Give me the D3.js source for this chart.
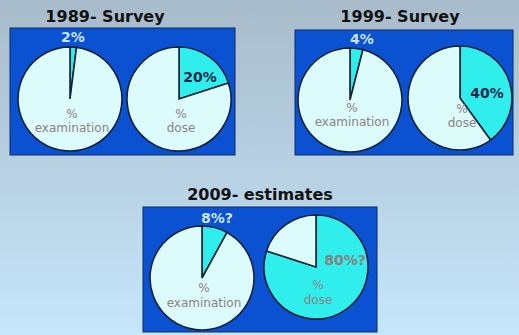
<!DOCTYPE html>
<html>
<head>
<meta charset="utf-8">
<script src="https://cdn.jsdelivr.net/npm/d3@7"></script>
<style>
  html, body { margin:0; padding:0; }
  svg { display:block; }
</style>
</head>
<body>
<svg width="519" height="335"></svg>
<script>
// chart values
var titles = ['1989- Survey', '1999- Survey', '2009- estimates'];
var examPct = [2, 4, 8];
var dosePct = [20, 40, 80];
var examLabels = ['2%', '4%', '8%?'];
var doseLabels = ['20%', '40%', '80%?'];
var pieNames = ['examination', 'dose'];

// panel layout (box + pie centres + label offsets)
var panels = [
  {tx:105, ty:22, box:[10,28,225,127],  c:[[70,99],[179,99]],   lab1:[73,42],  lab2:[200,82],
   off:[[19,33],[19,33]], doseCol:'#18264a'},
  {tx:400, ty:22, box:[295,30,218,125], c:[[350,100],[460,98]], lab1:[362,44], lab2:[487,98],
   off:[[12,26],[15,29]], doseCol:'#18264a'},
  {tx:260, ty:200,box:[143,207,234,125],c:[[202,278],[316,267]],lab1:[217,223],lab2:[345,265],
   off:[[14,29],[22,37]], doseCol:'#8a7f80'}
];

var svg = d3.select('svg');
var defs = svg.append('defs');
var grad = defs.append('linearGradient')
  .attr('id','bg').attr('x1',0).attr('y1',0).attr('x2',0).attr('y2',1);
grad.append('stop').attr('offset','0%').attr('stop-color','#a8bbca');
grad.append('stop').attr('offset','100%').attr('stop-color','#c6e6fb');

svg.append('rect').attr('width',519).attr('height',335).attr('fill','url(#bg)');

var r = 52;
var pie = d3.pie().sort(null).value(d => d);
var arc = d3.arc().innerRadius(0).outerRadius(r);
var sliceCol = ['#30eeec', '#dcfbfb'];

function drawPie(g, cx, cy, pct)
{
    const pg = g.append('g').attr('transform', `translate(${cx},${cy})`);
    pg.selectAll('path')
      .data(pie([pct, 100 - pct]))
      .enter().append('path')
      .attr('d', arc)
      .attr('fill', (d,i) => sliceCol[i])
      .attr('stroke', '#14233a')
      .attr('stroke-width', 1.6);
}

panels.forEach(function(p, i){
    const g = svg.append('g');

    g.append('text')
      .attr('x', p.tx).attr('y', p.ty)
      .attr('text-anchor','middle')
      .attr('font-family','DejaVu Sans')
      .attr('font-weight','bold')
      .attr('font-size','16px')
      .attr('fill','#111')
      .text(titles[i]);

    g.append('rect')
      .attr('x', p.box[0]).attr('y', p.box[1])
      .attr('width', p.box[2]).attr('height', p.box[3])
      .attr('fill','#0a52d2')
      .attr('stroke','#0a2a60').attr('stroke-width',1);

    drawPie(g, p.c[0][0], p.c[0][1], examPct[i]);
    drawPie(g, p.c[1][0], p.c[1][1], dosePct[i]);

    // percent labels
    g.append('text')
      .attr('x', p.lab1[0]).attr('y', p.lab1[1])
      .attr('text-anchor','middle')
      .attr('font-family','DejaVu Sans').attr('font-weight','bold')
      .attr('font-size','14px')
      .attr('fill','#c9e4f7')
      .text(examLabels[i]);

    g.append('text')
      .attr('x', p.lab2[0]).attr('y', p.lab2[1])
      .attr('text-anchor','middle')
      .attr('font-family','DejaVu Sans').attr('font-weight','bold')
      .attr('font-size','14px')
      .attr('fill', p.doseCol)
      .text(doseLabels[i]);

    // pie names
    p.c.forEach(function(c, k){
        g.append('text')
          .attr('x', c[0] + 2).attr('y', c[1] + p.off[k][0])
          .attr('text-anchor','middle')
          .attr('font-family','DejaVu Sans')
          .attr('font-size','12px')
          .attr('fill','#8c8282')
          .text('%');
        g.append('text')
          .attr('x', c[0] + 2).attr('y', c[1] + p.off[k][1])
          .attr('text-anchor','middle')
          .attr('font-family','DejaVu Sans')
          .attr('font-size','12px')
          .attr('fill','#8c8282')
          .text(pieNames[k]);
    });
});
</script>
</body>
</html>
